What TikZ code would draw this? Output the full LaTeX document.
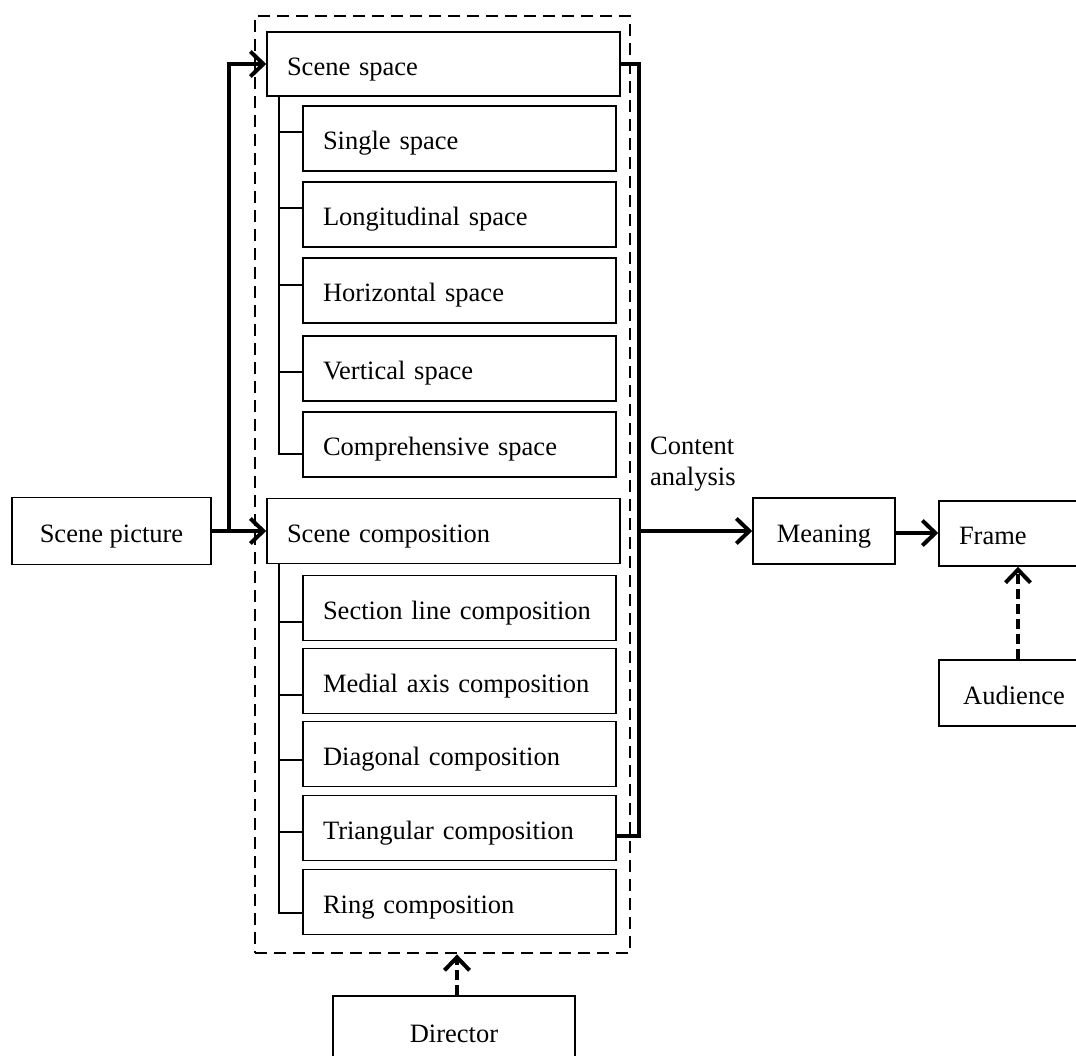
\documentclass[tikz,border=0pt]{standalone}
\usepackage{fontspec}
\setmainfont{Liberation Serif}
\usetikzlibrary{arrows.meta}
\begin{document}
\begin{tikzpicture}[x=1pt,y=-1pt,
  font=\fontsize{26.5}{30.5}\selectfont,
  mainbox/.style={draw, line width=1.6pt, minimum width=353pt, minimum height=64pt,
    text width=313pt, inner xsep=20pt, inner ysep=0pt, align=left,
    text height=22pt, text depth=0pt},
  subbox/.style={draw, line width=1.6pt, minimum width=313pt, minimum height=65pt,
    text width=273pt, inner xsep=20pt, inner ysep=0pt, align=left,
    text height=22pt, text depth=0pt},
  cbox/.style={draw, line width=1.6pt, inner sep=0pt, align=center,
    text height=22pt, text depth=0pt},
  tree/.style={line width=1.8pt},
  bus/.style={line width=4.5pt},
  arr/.style={line width=4.5pt, -{Straight Barb[length=13pt,width=25pt,line width=4pt]}},
  darr/.style={line width=4.5pt, dash pattern=on 10pt off 5pt, -{Straight Barb[length=13pt,width=25pt,line width=4pt]}},
  grpbox/.style={draw, line width=2.8pt, dash pattern=on 12pt off 7pt, inner sep=0pt}]
\useasboundingbox (0,0) rectangle (1076,1055);
\clip (0,0) rectangle (1076,1055);

% group box
\node[grpbox, minimum width=375pt, minimum height=937pt] (grp) at (442.5,484.5) {};

% scene space group
\node[mainbox] (ss) at (443.5,64) {Scene space};
\node[subbox] (single) at (459.5,138.5) {Single space};
\node[subbox] (long) at (459.5,214.5) {Longitudinal space};
\node[subbox] (horiz) at (459.5,290.5) {Horizontal space};
\node[subbox] (vert) at (459.5,368.5) {Vertical space};
\node[subbox] (comp) at (459.5,444.5) {Comprehensive space};

% scene composition group
\node[mainbox, minimum height=65pt] (sc) at (443.5,531) {Scene composition};
\node[subbox] (sect) at (459.5,608) {Section line composition};
\node[subbox] (medial) at (459.5,681) {Medial axis composition};
\node[subbox] (diag) at (459.5,754) {Diagonal composition};
\node[subbox] (tri) at (459.5,828) {Triangular composition};
\node[subbox] (ring) at (459.5,902) {Ring composition};

% other nodes
\node[cbox, minimum width=199pt, minimum height=67pt] (sp) at (111.5,531) {Scene picture};
\node[cbox, minimum width=142pt, minimum height=66pt] (mean) at (824,531) {Meaning};
\node[draw, line width=1.6pt, minimum width=150pt, minimum height=65pt, text width=110pt,
  inner xsep=20pt, inner ysep=0pt, align=left, text height=22pt, text depth=0pt] (frame) at (1014,533.5) {Frame};
\node[cbox, minimum width=150pt, minimum height=66pt] (aud) at (1014,693) {Audience};
\node[cbox, minimum width=242pt, minimum height=70pt] (dir) at (454,1031) {Director};
\node[anchor=north west, align=left, inner sep=0pt] (ca) at (650,437) {Content\\analysis};

% tree lines: scene space
\draw[tree] ([xshift=13pt]ss.south west) |- ([yshift=-9.5pt]comp.west);
\draw[tree] ([yshift=6.5pt]single.west) -- ++(-23,0);
\draw[tree] ([yshift=6.5pt]long.west) -- ++(-23,0);
\draw[tree] ([yshift=5.5pt]horiz.west) -- ++(-23,0);
\draw[tree] ([yshift=-3.5pt]vert.west) -- ++(-23,0);

% tree lines: scene composition
\draw[tree] ([xshift=13pt]sc.south west) |- ([yshift=-11pt]ring.west);
\draw[tree] ([yshift=-14pt]sect.west) -- ++(-23,0);
\draw[tree] ([yshift=-14pt]medial.west) -- ++(-23,0);
\draw[tree] ([yshift=-6pt]diag.west) -- ++(-23,0);
\draw[tree] ([yshift=-4pt]tri.west) -- ++(-23,0);

% input arrows
\draw[arr] (sp.east) -- ++(17,0) |- (ss.west);
\draw[arr] (sp.east) -- (sc.west);

% output bus
\draw[bus] (ss.east) -- ++(18,0) coordinate (bustop) |- ([yshift=-8pt]tri.east);
\coordinate (busmid) at (bustop |- mean.west);
\draw[arr] (busmid) -- (mean.west);
\draw[arr] ([yshift=-2pt]mean.east) -- ([yshift=-2pt]mean.east -| frame.west);

% dashed influences
\draw[darr] ([xshift=4pt]aud.north) -- ([xshift=4pt]frame.south);
\draw[darr] ([xshift=3pt]dir.north) -- ([xshift=3pt]dir.north |- grp.south);
\end{tikzpicture}
\end{document}
